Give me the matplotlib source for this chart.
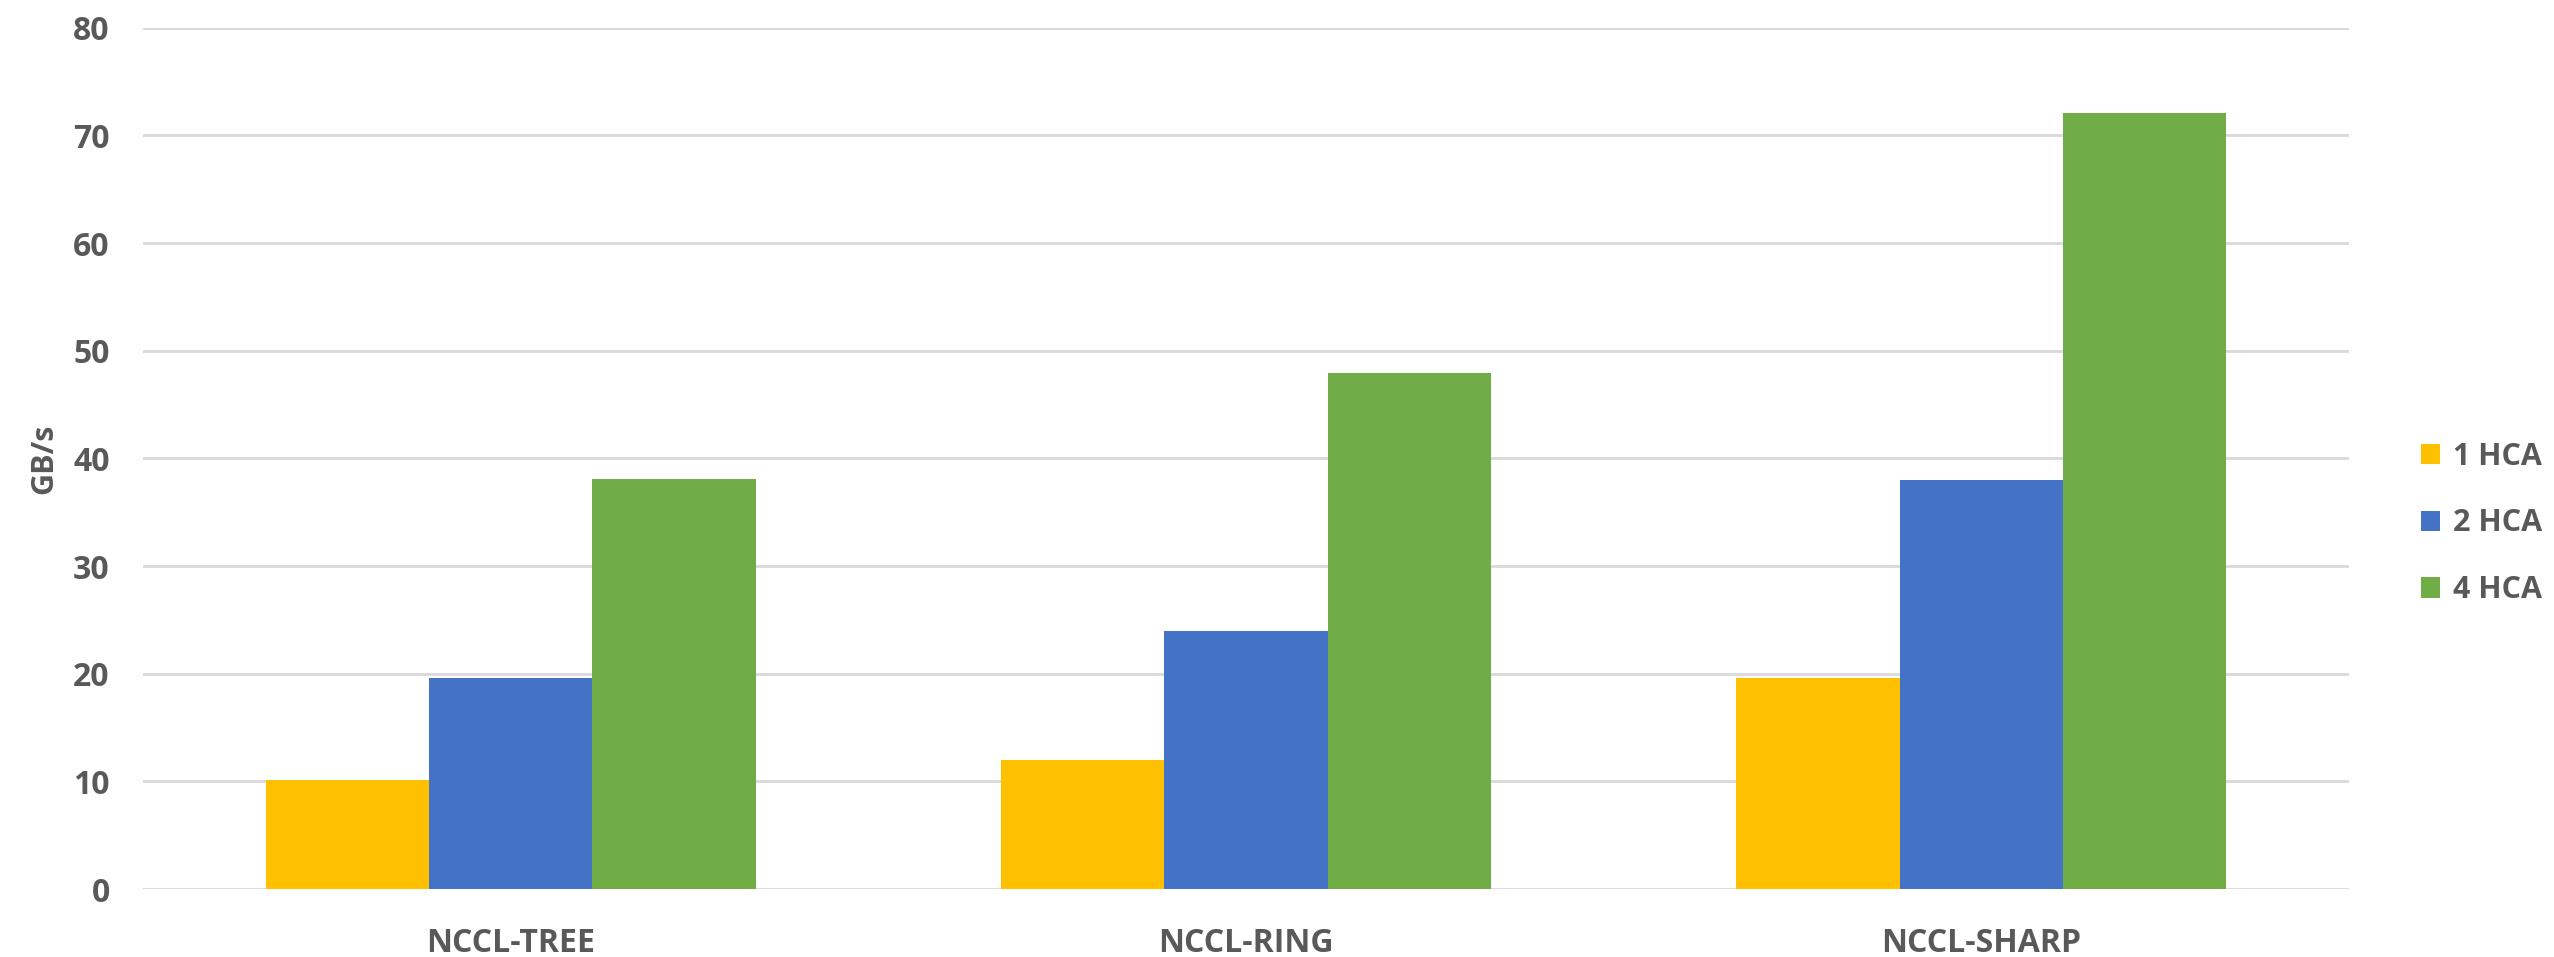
import numpy as np
import matplotlib.pyplot as plt

# chart data
categories = ['NCCL-TREE', 'NCCL-RING', 'NCCL-SHARP']
series_names = ['1 HCA', '2 HCA', '4 HCA']
hca1 = [10.1, 12.0, 19.6]
hca2 = [19.6, 24.0, 38.0]
hca4 = [38.1, 47.9, 72.1]
colors = ['#FFC000', '#4472C4', '#70AD47']

plt.rcParams['font.family'] = ['Open Sans', 'DejaVu Sans']
text_color = '#595959'

fig = plt.figure(figsize=(25.54, 9.57), dpi=100)
ax = fig.add_axes([0.056, 0.071, 0.8637, 0.90])

x = np.arange(len(categories))
width = 0.222
for i, (vals, name) in enumerate(zip([hca1, hca2, hca4], series_names)):
    ax.bar(x + (i - 1) * width, vals, width=width, color=colors[i], label=name, zorder=3)

ax.set_xlim(-0.5, 2.5)
ax.set_ylim(0, 80)
ax.set_yticks(range(0, 81, 10))
ax.set_xticks(x)
ax.set_xticklabels(categories)

ax.grid(axis='y', color='#d9d9d9', linewidth=2, zorder=0)
for s in ax.spines.values():
    s.set_visible(False)
ax.tick_params(axis='both', length=0, labelsize=23, labelcolor=text_color)
ax.tick_params(axis='y', pad=24)
ax.tick_params(axis='x', pad=27)
for lbl in ax.get_xticklabels() + ax.get_yticklabels():
    lbl.set_fontweight('bold')

ax.set_ylabel('GB/s', fontsize=22, color=text_color, fontweight='bold', labelpad=10)

leg = fig.legend(loc='center left', bbox_to_anchor=(0.937, 0.453), frameon=False,
                 fontsize=22, handlelength=0.65, handleheight=0.65,
                 handletextpad=0.4, labelspacing=1.2)
for t in leg.get_texts():
    t.set_color(text_color)
    t.set_fontweight('bold')

fig.savefig('out.png', dpi=100)
